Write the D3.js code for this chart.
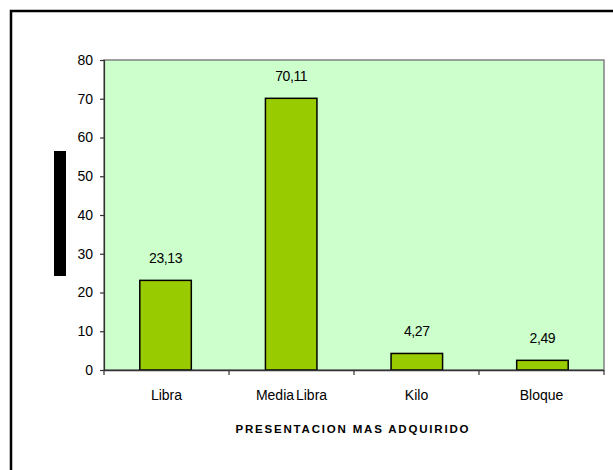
<!DOCTYPE html>
<html>
<head>
<meta charset="utf-8">
<script src="https://cdn.jsdelivr.net/npm/d3@7"></script>
<style>
  html, body { margin: 0; padding: 0; background: #fff; }
  svg { display: block; }
  text { font-family: "Liberation Sans", Arial, sans-serif; fill: #000; }
</style>
</head>
<body>
<script>
const categories = ["Libra", "Media Libra", "Kilo", "Bloque"];
const values = [23.13, 70.11, 4.27, 2.49];
const valueLabels = ["23,13", "70,11", "4,27", "2,49"];
const yTicks = [0, 10, 20, 30, 40, 50, 60, 70, 80];
const xTitle = "PRESENTACION MAS ADQUIRIDO";

const W = 613, H = 470;
const m = { left: 104, right: 9, top: 60, bottom: 100 };
const FS = 14;

const svg = d3.select("body").append("svg").attr("width", W).attr("height", H);

// outer chart border
svg.append("rect").attr("x", 11).attr("y", 11).attr("width", W + 10).attr("height", H + 10)
  .attr("fill", "#fff").attr("stroke", "#000").attr("stroke-width", 2.5);

const x = d3.scaleBand().domain(categories).range([m.left, W - m.right]).paddingInner(0.59).paddingOuter(0.285);
const xb = d3.scaleBand().domain(categories).range([m.left, W - m.right]);
const y = d3.scaleLinear().domain([0, 80]).range([H - m.bottom, m.top]);

// plot area
svg.append("rect").attr("x", m.left).attr("y", y(80)).attr("width", W - m.right - m.left).attr("height", y(0) - y(80))
  .attr("fill", "#CCFFCC").attr("stroke", "#808080").attr("stroke-width", 1.5);

// bars
svg.selectAll("rect.bar").data(values).enter().append("rect").attr("class", "bar")
  .attr("x", (d, i) => x(categories[i]))
  .attr("y", d => y(d))
  .attr("width", x.bandwidth())
  .attr("height", d => y(0) - y(d))
  .attr("fill", "#99CC00").attr("stroke", "#000").attr("stroke-width", 1.5);

// value labels
svg.selectAll("text.vl").data(values).enter().append("text").attr("class", "vl")
  .attr("x", (d, i) => x(categories[i]) + x.bandwidth() / 2)
  .attr("y", d => y(d) - 17)
  .attr("text-anchor", "middle").attr("font-size", FS).attr("letter-spacing", -0.4)
  .text((d, i) => valueLabels[i]);

// y axis
const yAxis = svg.append("g").attr("transform", `translate(${m.left},0)`)
  .call(d3.axisLeft(y).tickValues(yTicks).tickSize(4).tickPadding(7).tickFormat(d3.format("d")));
yAxis.selectAll("path, line").attr("stroke", "#333").attr("stroke-width", 1.2);
yAxis.selectAll("text").attr("font-size", FS).attr("fill", "#000").attr("font-family", "Liberation Sans, Arial, sans-serif");

// x axis
const xAxis = svg.append("g").attr("transform", `translate(0,${y(0)})`)
  .call(d3.axisBottom(xb).tickSize(0).tickPadding(20));
xAxis.select("path").attr("stroke", "#333").attr("stroke-width", 1.5).attr("d", `M${m.left},0.5H${W - m.right}`);
xAxis.selectAll("text").attr("font-size", FS).attr("fill", "#000").attr("word-spacing", -2)
  .attr("font-family", "Liberation Sans, Arial, sans-serif");
// category separator ticks
const sepTicks = categories.map(c => xb(c)).concat([W - m.right]);
svg.selectAll("line.sep").data(sepTicks).enter().append("line").attr("class", "sep")
  .attr("x1", d => d).attr("x2", d => d).attr("y1", y(0)).attr("y2", y(0) + 5)
  .attr("stroke", "#333").attr("stroke-width", 1.2);

// x title
svg.append("text").attr("x", (m.left + W - m.right) / 2 - 2).attr("y", 433)
  .attr("text-anchor", "middle").attr("font-size", 11.5).attr("font-weight", "bold")
  .attr("textLength", 233).attr("lengthAdjust", "spacing").text(xTitle);

// obscured y-axis title block
svg.append("rect").attr("x", 54).attr("y", 151).attr("width", 12).attr("height", 125).attr("fill", "#000");
</script>
</body>
</html>
